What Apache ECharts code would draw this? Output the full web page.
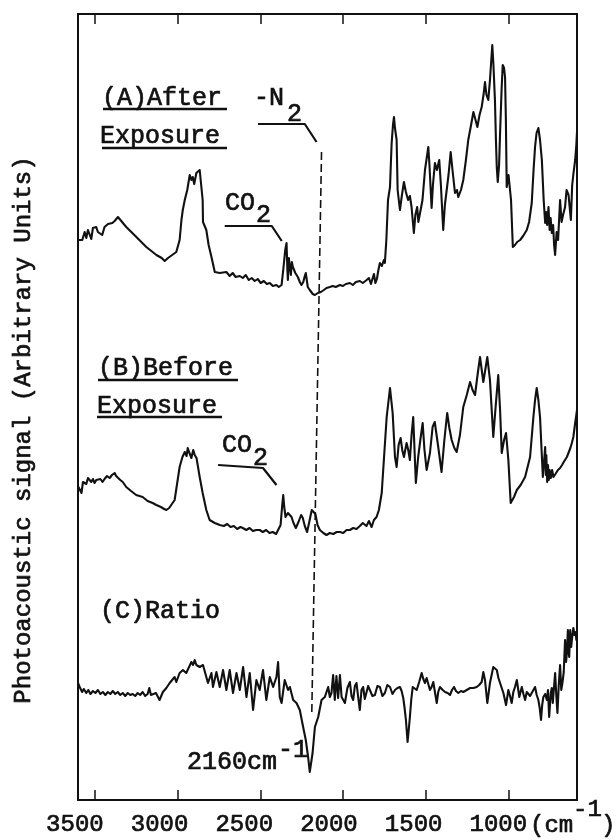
<!DOCTYPE html>
<html>
<head>
<meta charset="utf-8">
<script src="https://cdn.jsdelivr.net/npm/echarts@6/dist/echarts.min.js"></script>
<style>
html,body{margin:0;padding:0;background:#fff;}
#c{width:616px;height:840px;}
</style>
</head>
<body>
<div id="c"></div>
<script>
// x: wavenumber (cm-1), y: photoacoustic signal (arbitrary units)
const tickValues = [3500, 3000, 2500, 2000, 1500, 1000];
const tickLabels = ['3500', '3000', '2500', '2000', '1500', '1000'];

const traceA = [[3595,560],[3574,560],[3560,568],[3550,562],[3540,570],[3530,572],[3520,561],[3510,572],[3500,570],[3490,573],[3480,568],[3470,569],[3454,565],[3440,573],[3429,571],[3419,576],[3409,574],[3393,577],[3379,579],[3369,578],[3359,583],[3309,573],[3248,563],[3188,553],[3127,545],[3095,542],[3077,539],[3057,542],[3047,540],[3007,548],[2987,560],[2976,580],[2968,590],[2956,600],[2941,610],[2926,625],[2916,620],[2908,623],[2899,616],[2886,627],[2875,625],[2866,630],[2857,615],[2848,600],[2846,578],[2826,570],[2812,555],[2795,543],[2775,528],[2745,527],[2705,528],[2685,524],[2667,527],[2649,523],[2624,524],[2606,522],[2588,525],[2570,520],[2552,522],[2534,519],[2516,521],[2498,517],[2479,519],[2461,516],[2443,517],[2425,514],[2403,515],[2389,513],[2372,515],[2362,530],[2350,550],[2342,557],[2337,530],[2334,520],[2328,542],[2322,543],[2316,525],[2310,538],[2304,533],[2289,527],[2274,523],[2262,518],[2252,515],[2241,518],[2232,524],[2226,527],[2220,520],[2214,513],[2202,510],[2184,506],[2171,505],[2153,507],[2135,508],[2117,510],[2101,512],[2081,513],[2063,514],[2045,513],[2020,515],[2002,514],[1984,516],[1960,517],[1942,515],[1924,518],[1900,519],[1882,517],[1859,520],[1845,522],[1833,516],[1821,515],[1815,526],[1806,517],[1797,521],[1788,530],[1779,537],[1767,534],[1755,540],[1749,537],[1740,560],[1730,600],[1718,613],[1712,640],[1708,657],[1700,675],[1694,683],[1688,672],[1678,660],[1672,610],[1658,590],[1646,605],[1634,618],[1622,608],[1609,600],[1598,604],[1588,593],[1574,567],[1565,585],[1554,593],[1547,578],[1537,577],[1522,600],[1507,630],[1487,653],[1480,635],[1467,592],[1459,615],[1447,637],[1435,630],[1421,640],[1411,615],[1397,570],[1387,595],[1376,610],[1365,625],[1352,648],[1341,630],[1326,607],[1314,610],[1306,603],[1290,610],[1276,620],[1260,640],[1246,660],[1229,675],[1215,688],[1202,680],[1191,673],[1178,685],[1165,693],[1154,705],[1145,718],[1136,705],[1125,700],[1115,720],[1107,740],[1101,755],[1094,735],[1085,700],[1079,660],[1074,633],[1068,618],[1060,635],[1054,667],[1045,710],[1038,735],[1030,732],[1024,723],[1019,680],[1014,613],[1003,625],[994,627],[988,600],[977,553],[964,555],[951,558],[933,560],[915,564],[893,570],[879,578],[863,597],[852,630],[843,653],[834,667],[823,672],[813,660],[802,640],[791,600],[782,577],[776,588],[770,575],[762,593],[755,570],[749,582],[742,567],[734,575],[728,555],[722,545],[713,568],[704,560],[692,600],[683,578],[674,585],[662,593],[653,610],[641,605],[627,580],[619,615],[611,627],[601,640],[594,655],[590,668]];

const traceB = [[3597,313],[3579,307],[3570,318],[3560,320],[3550,316],[3540,322],[3530,323],[3520,318],[3510,321],[3500,317],[3490,320],[3480,318],[3465,321],[3452,318],[3440,321],[3425,324],[3409,322],[3395,325],[3379,327],[3370,324],[3360,325],[3345,320],[3330,318],[3309,313],[3280,309],[3249,305],[3210,303],[3180,299],[3150,297],[3127,295],[3100,293],[3080,291],[3067,290],[3050,292],[3017,300],[2987,333],[2970,343],[2956,348],[2945,344],[2938,352],[2930,348],[2916,342],[2905,350],[2896,345],[2885,342],[2866,323],[2848,307],[2826,290],[2806,280],[2775,277],[2745,275],[2720,274],[2700,276],[2680,273],[2660,274],[2640,271],[2620,273],[2606,272],[2585,270],[2565,272],[2545,269],[2525,270],[2504,270],[2485,268],[2465,270],[2445,267],[2425,268],[2405,266],[2395,268],[2378,275],[2368,295],[2362,305],[2356,293],[2348,283],[2340,282],[2334,287],[2322,285],[2312,283],[2300,277],[2286,272],[2270,278],[2254,285],[2244,282],[2232,274],[2218,268],[2205,278],[2190,290],[2178,292],[2168,286],[2155,275],[2141,270],[2120,267],[2101,265],[2081,267],[2060,266],[2040,268],[2020,268],[2000,267],[1980,270],[1960,270],[1940,272],[1920,271],[1900,274],[1882,277],[1860,274],[1845,279],[1829,273],[1815,280],[1799,283],[1785,290],[1768,307],[1755,340],[1738,383],[1718,412],[1702,387],[1688,343],[1678,333],[1666,355],[1654,362],[1644,350],[1634,343],[1618,357],[1608,350],[1598,340],[1588,365],[1578,383],[1562,317],[1548,343],[1535,360],[1521,377],[1510,350],[1497,330],[1477,347],[1461,373],[1448,378],[1436,378],[1427,353],[1407,328],[1390,360],[1373,387],[1360,372],[1346,360],[1330,352],[1316,348],[1296,365],[1276,393],[1255,405],[1235,418],[1220,410],[1205,405],[1190,425],[1175,443],[1155,418],[1131,443],[1115,420],[1095,363],[1080,395],[1065,425],[1054,390],[1044,347],[1030,360],[1018,367],[1004,340],[990,297],[970,303],[953,310],[930,315],[903,323],[873,343],[853,383],[843,400],[833,412],[823,400],[813,383],[796,323],[782,353],[778,325],[775,345],[770,318],[765,335],[760,320],[755,330],[748,322],[740,330],[732,323],[720,326],[705,330],[692,332],[680,335],[670,338],[660,340],[651,343],[640,345],[630,352],[621,357],[612,363],[601,377],[594,385],[590,390]];

const traceC = [[3600,117],[3590,113],[3575,108],[3565,111],[3550,107],[3538,110],[3525,106],[3510,109],[3495,107],[3480,110],[3465,106],[3450,108],[3435,105],[3420,108],[3405,106],[3390,109],[3375,106],[3360,108],[3345,105],[3330,107],[3315,104],[3300,107],[3285,105],[3270,106],[3255,104],[3240,107],[3225,105],[3210,108],[3195,104],[3180,106],[3170,112],[3160,105],[3145,106],[3130,107],[3118,107],[3108,100],[3088,108],[3067,112],[3047,117],[3017,123],[3007,118],[2987,127],[2967,130],[2947,127],[2916,138],[2906,135],[2896,140],[2886,135],[2866,133],[2846,135],[2826,123],[2816,117],[2795,127],[2786,113],[2765,128],[2745,113],[2725,130],[2705,110],[2685,130],[2665,107],[2644,127],[2624,110],[2604,133],[2584,103],[2564,127],[2544,90],[2524,120],[2504,110],[2484,130],[2464,100],[2443,123],[2423,113],[2403,123],[2393,138],[2383,103],[2372,97],[2353,120],[2333,110],[2322,113],[2302,100],[2282,97],[2262,90],[2242,73],[2226,60],[2212,43],[2202,28],[2185,47],[2171,73],[2151,83],[2131,100],[2111,103],[2091,113],[2081,103],[2071,107],[2061,125],[2051,100],[2041,124],[2031,102],[2020,125],[2010,103],[1990,97],[1975,112],[1960,118],[1950,104],[1940,100],[1930,114],[1920,117],[1910,103],[1900,90],[1890,110],[1880,113],[1870,101],[1860,103],[1850,114],[1839,112],[1824,104],[1809,105],[1794,114],[1779,113],[1764,104],[1749,107],[1734,115],[1718,113],[1703,106],[1688,110],[1673,112],[1658,113],[1648,109],[1638,102],[1630,92],[1622,80],[1612,58],[1605,70],[1598,83],[1590,100],[1581,113],[1570,112],[1557,110],[1542,118],[1527,127],[1517,121],[1507,117],[1497,122],[1487,120],[1477,110],[1467,113],[1457,118],[1447,117],[1436,97],[1427,108],[1417,113],[1400,110],[1386,108],[1370,107],[1356,105],[1344,110],[1332,113],[1320,109],[1306,107],[1290,109],[1276,108],[1255,110],[1235,112],[1215,112],[1195,113],[1180,115],[1165,118],[1155,128],[1145,120],[1131,97],[1115,117],[1105,125],[1095,133],[1085,132],[1074,130],[1064,122],[1054,117],[1044,112],[1034,107],[1018,95],[1004,110],[994,104],[984,97],[974,108],[964,113],[953,120],[938,103],[923,113],[913,106],[903,100],[893,108],[883,110],[873,104],[863,103],[853,110],[843,113],[833,105],[823,100],[815,92],[807,80],[800,95],[793,103],[782,106],[772,100],[765,110],[758,83],[748,107],[742,112],[736,97],[729,112],[722,127],[715,105],[708,87],[700,115],[692,135],[685,110],[678,117],[670,128],[662,160],[656,138],[651,147],[645,170],[641,150],[637,143],[631,170],[625,153],[619,163],[612,172],[605,165],[598,168],[594,160],[590,165]];

// annotation guide lines (data coordinates)
const n2Line = [[2131,648],[2190,85]];
const n2Leader = [[2514,676],[2232,676],[2161,658]];
const co2LeaderA = [[2715,574],[2431,574],[2371,559]];
const co2LeaderB = [[2755,335],[2484,332],[2403,315]];

const INK = '#111';
const FONT = 'Liberation Mono, DejaVu Sans Mono, monospace';

function txtStyle(text, size, align) {
  return { text: text, font: size + 'px ' + FONT, fill: INK, stroke: INK, lineWidth: 0.7,
           align: align || 'left', verticalAlign: 'middle' };
}
function txt(text, x, y, size, extra) {
  return Object.assign({ type: 'text', x: x, y: y, silent: true, style: txtStyle(text, size) }, extra || {});
}
function uline(x1, x2, y) {
  return { type: 'line', silent: true, shape: { x1: x1, y1: y, x2: x2, y2: y }, style: { stroke: INK, lineWidth: 2.5 } };
}
function lineSeries(data, w, dash) {
  return {
    type: 'line', xAxisIndex: 0, yAxisIndex: 0, data: data, symbol: 'none',
    lineStyle: { color: INK, width: w, type: dash || 'solid', join: 'round' },
    silent: true, animation: false
  };
}

const chart = echarts.init(document.getElementById('c'), null, { renderer: 'canvas' });
chart.setOption({
  animation: false,
  backgroundColor: '#fff',
  grid: [
    { left: 78, right: 39, top: 14, bottom: 40, show: true, borderColor: INK, borderWidth: 2, containLabel: false, outerBoundsMode: 'none' },
    { left: 41, right: 33, top: 14, bottom: 40, show: false, containLabel: false, outerBoundsMode: 'none' }
  ],
  xAxis: [
    { gridIndex: 0, type: 'value', min: 590, max: 3600, inverse: true, position: 'bottom', splitNumber: 5,
      axisLine: { show: false }, splitLine: { show: false }, axisLabel: { show: false },
      axisTick: { show: true, inside: true, length: 10, lineStyle: { color: INK, width: 1.5 } } },
    { gridIndex: 0, type: 'value', min: 590, max: 3600, inverse: true, position: 'top', splitNumber: 5,
      axisLine: { show: false }, splitLine: { show: false }, axisLabel: { show: false },
      axisTick: { show: true, inside: true, length: 10, lineStyle: { color: INK, width: 1.5 } } },
    { gridIndex: 1, type: 'value', min: 500, max: 3700, interval: 500, inverse: true, position: 'bottom',
      axisLine: { show: false }, splitLine: { show: false }, axisTick: { show: false },
      axisLabel: { show: true, margin: 13, fontSize: 24, fontFamily: FONT, color: INK,
        textBorderColor: INK, textBorderWidth: 0.7,
        showMinLabel: true, showMaxLabel: true,
        formatter: function (v) { const i = tickValues.indexOf(v); return i >= 0 ? tickLabels[i] : ''; } } }
  ],
  yAxis: [
    { gridIndex: 0, type: 'value', min: 0, max: 786, show: false },
    { gridIndex: 1, type: 'value', min: 0, max: 1, show: false }
  ],
  series: [
    lineSeries(traceA, 2.1),
    lineSeries(traceB, 2.1),
    lineSeries(traceC, 2.1),
    lineSeries(n2Line, 1.6, [8, 4]),
    lineSeries(n2Leader, 2.2),
    lineSeries(co2LeaderA, 2.2),
    lineSeries(co2LeaderB, 2.2)
  ],
  graphic: [
    { type: 'text', x: 24, y: 430, rotation: Math.PI / 2, silent: true,
      style: txtStyle('Photoacoustic signal (Arbitrary Units)', 24, 'center') },
    txt('(A)After', 102, 98, 25), uline(103, 227, 109),
    txt('Exposure', 100, 136, 25), uline(102, 227, 148),
    txt('-N', 254, 98, 25), txt('2', 287, 114, 25),
    txt('CO', 225, 203, 25), txt('2', 256, 215, 25),
    txt('(B)Before', 98, 368, 25), uline(98, 238, 380),
    txt('Exposure', 97, 406, 25), uline(97, 222, 417),
    txt('CO', 222, 445, 25), txt('2', 253, 458, 25),
    txt('(C)Ratio', 100, 611, 25),
    txt('2160cm', 187, 762, 25), txt('-1', 278, 750, 25),
    txt('(cm', 530, 826, 24), txt('-1', 573, 810, 24), txt(')', 601, 826, 24)
  ]
});
</script>
</body>
</html>
